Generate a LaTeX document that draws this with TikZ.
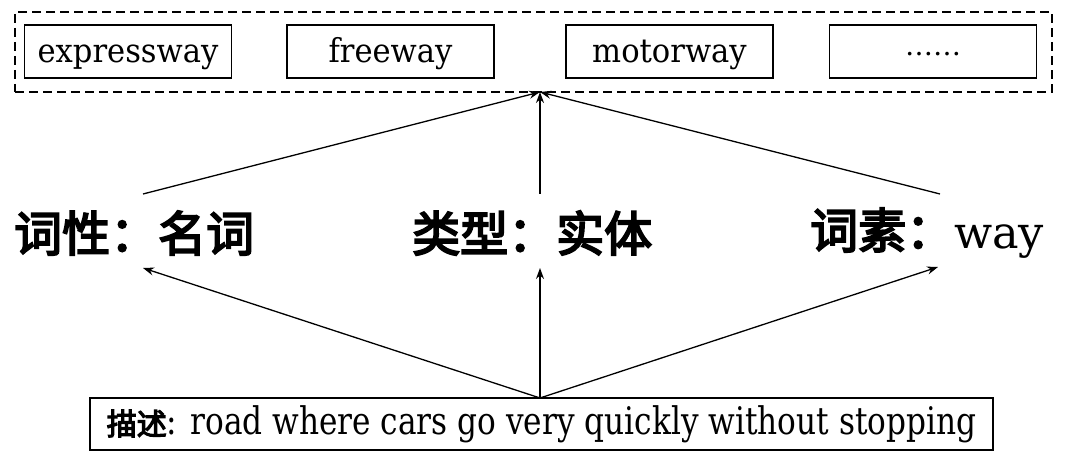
\documentclass[tikz,border=0pt]{standalone}
\usepackage{fontspec}
\setmainfont{DejaVu Serif}
\newfontfamily\cjkb{Noto Sans CJK SC}[FakeBold=4]
\usetikzlibrary{arrows.meta}
\begin{document}
\begin{tikzpicture}[x=1pt,y=-1pt,
  wbox/.style={draw,line width=1.8pt,minimum width=207pt,minimum height=53pt,inner sep=0pt,
    text height=30pt,text depth=7pt,font=\fontsize{30}{30}\selectfont},
  lab/.style={inner sep=0pt,anchor=west,font=\cjkb\fontsize{48}{48}\selectfont},
  conn/.style={line width=1.3pt,-{Stealth[length=11pt,width=8pt]}},
]
\useasboundingbox (0,0) rectangle (1080,462);
% group of synonyms
\node[draw,line width=1.4pt,dash pattern=on 9pt off 5pt,minimum width=1037pt,minimum height=80pt,inner sep=0pt] (grp) at (533.5,52) {};
\node[wbox] (w1) at (128,51.5) {\scalebox{1.02}[1.1]{expressway}};
\node[wbox] (w2) at (390.5,51.5) {\scalebox{1.02}[1.1]{freeway}};
\node[wbox] (w3) at (669.5,51.5) {\scalebox{1.02}[1.1]{motorway}};
\node[wbox] (w4) at (933,51.5) {\raisebox{7pt}{\fontsize{28}{28}\selectfont ……}};
% attribute labels
\node[lab] (l1) at (14,233) {词性：名词};
\node[lab] (l2) at (412,233) {类型：实体};
\node[lab] (l3) at (810,233) {词素：{\normalfont\fontsize{44.6}{44.6}\selectfont way}};
% description
\node[draw,line width=2pt,minimum width=903pt,minimum height=52pt,inner sep=0pt,
  text height=27pt,text depth=5pt] (desc) at (541.5,424)
  {{\cjkb\fontsize{30}{30}\selectfont 描述}\scalebox{0.82}[1]{\fontsize{38}{38}\selectfont: road where cars go very quickly without stopping}};
% connector end points
\coordinate (gtip) at (540,92);
\coordinate (t1) at (143,194);
\coordinate (t2) at (540,194);
\coordinate (t3) at (940,194);
\coordinate (b1) at (143,268);
\coordinate (b2) at (540,268);
\coordinate (b3) at (938,267);
\coordinate (bsrc) at (540,398);
\draw[conn] (t1) -- (gtip);
\draw[conn] (t2) -- (gtip);
\draw[conn] (t3) -- (gtip);
\draw[conn] (bsrc) -- (b1);
\draw[conn] (bsrc) -- (b2);
\draw[conn] (bsrc) -- (b3);
\end{tikzpicture}
\end{document}
